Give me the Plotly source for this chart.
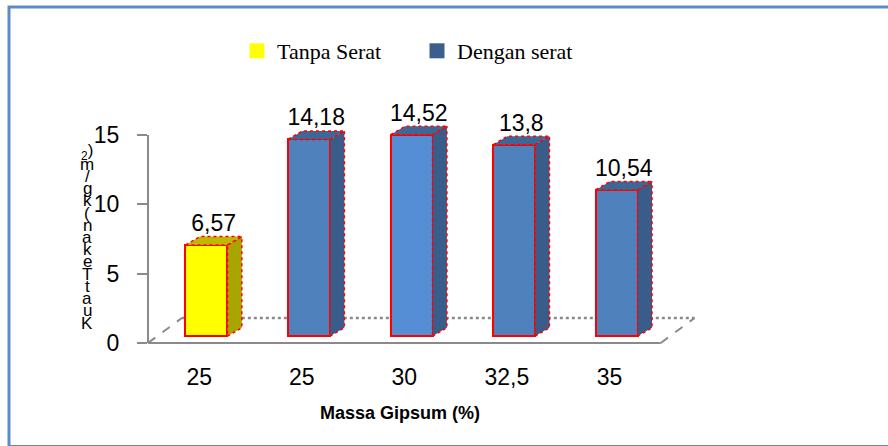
import plotly.graph_objects as go

# ---- data ----
categories = ["25", "25", "30", "32,5", "35"]
values = [6.57, 14.18, 14.52, 13.8, 10.54]
series_names = ["Tanpa Serat", "Dengan serat"]
y_ticks = [0, 5, 10, 15]
y_title_chars = ["K", "u", "a", "t", "T", "e", "k", "a", "n", "(", "k", "g", "/", "m", "<sub>2</sub>)"]
x_title = "Massa Gipsum (%)"

# ---- style ----
front_colors = ["#FFFF00", "#4F81BD", "#558ED5", "#4F81BD", "#4F81BD"]
side_colors = ["#A8A400", "#385D8A", "#385D8A", "#385D8A", "#385D8A"]
top_colors = ["#BDB900", "#3D6797", "#3D6797", "#3D6797", "#3D6797"]
legend_colors = ["#FFFF00", "#3B5E8C"]
RED = "#FF0000"
GRID = "#8A8A8A"
SANS = "Liberation Sans, Arial, sans-serif"

BAR_W = 0.41
SHIFT = 0.07      # front face shift into the depth
BASE = 0.5        # front face baseline (3D floor)
DX, DY = 0.14, 0.6  # bar depth
FLOOR_DX, FLOOR_DY = 0.33, 1.8

# pixel geometry helpers
L, R, T, B = 148, 176, 110, 96
W, H = 888, 446
PW, PH = W - L - R, H - T - B
XR = [-0.5, 5.0]
YR = [-0.505, 16.8]

def px_x(p):
    return (p - L) / PW

def px_y(p):
    return (H - B - p) / PH

n = len(values)
xs = [i + SHIFT for i in range(n)]

fig = go.Figure()

# front faces
fig.add_trace(go.Bar(
    x=xs, y=values, base=[BASE] * n, width=[BAR_W] * n,
    marker=dict(color=front_colors, line=dict(color=RED, width=2)),
    showlegend=False, hoverinfo="skip",
))

# side and top faces
for i, v in enumerate(values):
    xl, xr = xs[i] - BAR_W / 2, xs[i] + BAR_W / 2
    top = BASE + v
    fig.add_trace(go.Scatter(
        x=[xr, xr + DX, xr + DX, xr, xr],
        y=[BASE, BASE + DY, top + DY, top, BASE],
        fill="toself", fillcolor=side_colors[i], mode="lines",
        line=dict(color=RED, width=1.5, dash="dot"),
        showlegend=False, hoverinfo="skip",
    ))
    fig.add_trace(go.Scatter(
        x=[xl, xr, xr + DX, xl + DX, xl],
        y=[top, top, top + DY, top + DY, top],
        fill="toself", fillcolor=top_colors[i], mode="lines",
        line=dict(color=RED, width=1.5, dash="dot"),
        showlegend=False, hoverinfo="skip",
    ))

# data labels
fig.add_trace(go.Scatter(
    x=[x + DX / 2 for x in xs], y=[BASE + v + DY for v in values],
    mode="text", text=[str(v).replace(".", ",") for v in values],
    textposition="top center",
    textfont=dict(family=SANS, size=23, color="#000000"),
    showlegend=False, hoverinfo="skip", cliponaxis=False,
))

# legend entries
for name, col in zip(series_names, legend_colors):
    fig.add_trace(go.Scatter(
        x=[None], y=[None], mode="markers", name=name,
        marker=dict(symbol="square", size=15, color=col),
    ))

shapes = []
x0, x1 = -0.5, n - 0.5
# floor
shapes.append(dict(type="line", xref="x", yref="y", x0=x0, y0=0, x1=x1, y1=0,
                   line=dict(color=GRID, width=2), layer="below"))
shapes.append(dict(type="line", xref="x", yref="y", x0=x0, y0=0, x1=x0 + FLOOR_DX, y1=FLOOR_DY,
                   line=dict(color=GRID, width=2, dash="dash"), layer="below"))
shapes.append(dict(type="line", xref="x", yref="y", x0=x1, y0=0, x1=x1 + FLOOR_DX, y1=FLOOR_DY,
                   line=dict(color=GRID, width=2, dash="dash"), layer="below"))
shapes.append(dict(type="line", xref="x", yref="y", x0=x0 + FLOOR_DX, y0=FLOOR_DY, x1=x1 + FLOOR_DX, y1=FLOOR_DY,
                   line=dict(color=GRID, width=2.5, dash="dot"), layer="below"))
# y axis line
shapes.append(dict(type="line", xref="paper", yref="y", x0=0, y0=y_ticks[0], x1=0, y1=y_ticks[-1],
                   line=dict(color=GRID, width=2), layer="below"))
# outer frame
shapes.append(dict(type="rect", xref="paper", yref="paper",
                   x0=px_x(9), x1=px_x(900), y0=px_y(446.5), y1=px_y(7),
                   line=dict(color="#5B8BC8", width=3), layer="below"))

annotations = []
# y title stacked characters
top_px, bot_px = 152, 323
step = (bot_px - top_px) / (len(y_title_chars) - 1)
for k, ch in enumerate(y_title_chars):
    py = bot_px - k * step
    annotations.append(dict(
        text=ch, xref="paper", yref="paper", x=px_x(87), y=px_y(py),
        showarrow=False, xanchor="center", yanchor="middle",
        font=dict(family=SANS, size=17, color="#000000"),
    ))
annotations.append(dict(
    text="<b>" + x_title + "</b>", xref="paper", yref="paper", x=px_x(400), y=px_y(413),
    showarrow=False, xanchor="center", yanchor="middle",
    font=dict(family=SANS, size=18, color="#000000"),
))

fig.update_layout(
    width=W, height=H,
    margin=dict(l=L, r=R, t=T, b=B, pad=0),
    paper_bgcolor="white", plot_bgcolor="white",
    shapes=shapes, annotations=annotations,
    showlegend=True,
    legend=dict(orientation="h", x=px_x(237), y=px_y(30), xanchor="left", yanchor="top",
                font=dict(family="Liberation Serif, Times New Roman, serif", size=22, color="#000000"),
                bgcolor="rgba(0,0,0,0)", itemwidth=30,
                entrywidth=135, entrywidthmode="pixels"),
    xaxis=dict(range=XR, showgrid=False, zeroline=False, showline=False,
               tickmode="array", tickvals=list(range(n)), ticktext=categories,
               ticks="", ticklabelstandoff=11,
               tickfont=dict(family=SANS, size=23, color="#000000")),
    yaxis=dict(range=YR, showgrid=False, zeroline=False, showline=False,
               tickmode="array", tickvals=y_ticks, ticks="outside", ticklen=10, tickwidth=2,
               tickcolor=GRID, ticklabelstandoff=13,
               tickfont=dict(family=SANS, size=23, color="#000000")),
    bargap=0,
)

fig.write_html("out.html", config={"displayModeBar": False},
               post_script="document.body.style.margin='0px';")
